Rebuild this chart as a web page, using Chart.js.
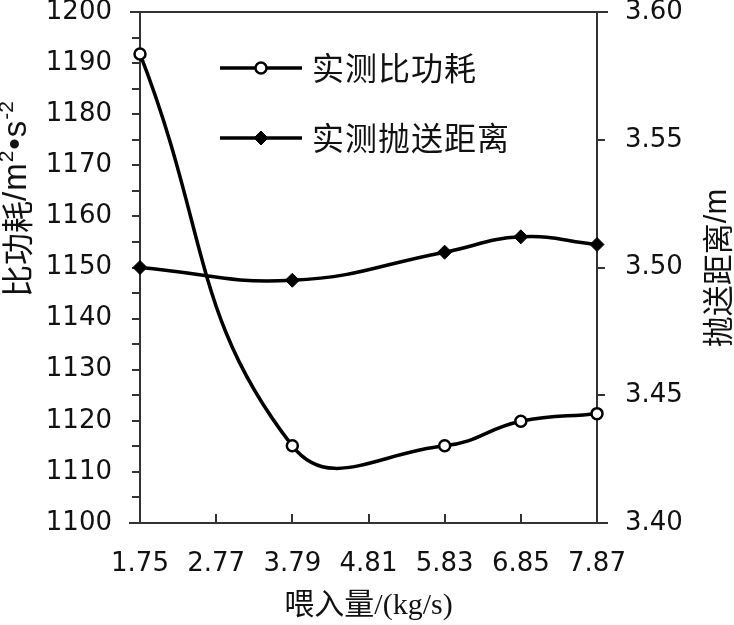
<!DOCTYPE html>
<html>
<head>
<meta charset="utf-8">
<script src="https://cdn.jsdelivr.net/npm/chart.js@4.4.1/dist/chart.umd.min.js"></script>
<style>
  html, body { margin: 0; padding: 0; background: #fff; }
  canvas { display: block; }
</style>
</head>
<body>
<canvas id="chart" width="734" height="625"></canvas>
<script>
// values
const feedRate = [1.75, 3.79, 5.83, 6.85, 7.87];
const powerUse = [1191.8, 1115.1, 1115.1, 1119.9, 1121.4];
const throwDist = [3.500, 3.495, 3.506, 3.512, 3.509];
const xTicks = [1.75, 2.77, 3.79, 4.81, 5.83, 6.85, 7.87];
const seriesNames = ['实测比功耗', '实测抛送距离'];

const AXIS = '#333';
const TICK_FONT = { family: "'DejaVu Sans', Verdana, sans-serif", size: 26 };
const CJK = "'Noto Sans CJK SC', sans-serif";

const toPoints = (ys) => feedRate.map((x, i) => ({ x: x, y: ys[i] }));

// rotated text made of normal + superscript pieces
function rotatedText(ctx, parts, cx, cy) {
  ctx.save();
  ctx.translate(cx, cy);
  ctx.rotate(-Math.PI / 2);
  ctx.textBaseline = 'middle';
  ctx.textAlign = 'left';
  let w = 0;
  parts.forEach(p => { ctx.font = p.font; w += ctx.measureText(p.t).width + (p.gap || 0); });
  let x = -w / 2;
  parts.forEach(p => {
    ctx.font = p.font;
    ctx.fillText(p.t, x, p.dy || 0);
    x += ctx.measureText(p.t).width + (p.gap || 0);
  });
  ctx.restore();
}

const extras = {
  id: 'extras',
  afterDraw(chart) {
    const ctx = chart.ctx;
    const a = chart.chartArea;
    const xs = chart.scales.x;
    ctx.save();
    ctx.strokeStyle = AXIS;
    ctx.lineWidth = 2;
    // top frame line and axis overhang
    ctx.beginPath();
    ctx.moveTo(a.left - 10, a.top);
    ctx.lineTo(a.right + 11, a.top);
    ctx.moveTo(a.left - 11, a.bottom);
    ctx.lineTo(a.right + 11, a.bottom);
    // x ticks point inward
    xTicks.forEach(v => {
      const px = Math.round(xs.getPixelForValue(v));
      ctx.moveTo(px, a.bottom);
      ctx.lineTo(px, a.bottom - 9);
    });
    ctx.stroke();

    ctx.fillStyle = '#111';
    const big = "32px " + CJK;
    const lat = "33px 'Liberation Sans', " + CJK;
    const sup = "21px 'Liberation Sans', sans-serif";
    rotatedText(ctx, [
      { t: '比功耗', font: big },
      { t: '/', font: lat, gap: 1 },
      { t: 'm', font: lat, gap: 1 },
      { t: '2', font: sup, dy: -10, gap: 1 },
      { t: '•', font: lat, gap: 1 },
      { t: 's', font: lat, gap: 1 },
      { t: '-2', font: sup, dy: -10 }
    ], 17, 199);
    rotatedText(ctx, [
      { t: '抛送距离', font: "31px " + CJK },
      { t: '/m', font: "31px 'Liberation Sans', " + CJK }
    ], 717, 268);

    // legend inside the plot
    chart.data.datasets.forEach((ds, i) => {
      const y = 68 + i * 70;
      ctx.strokeStyle = ds.borderColor;
      ctx.lineWidth = ds.borderWidth;
      ctx.beginPath();
      ctx.moveTo(220, y);
      ctx.lineTo(302, y);
      ctx.stroke();
      ctx.fillStyle = ds.pointBackgroundColor;
      ctx.strokeStyle = ds.pointBorderColor;
      ctx.lineWidth = ds.pointBorderWidth;
      Chart.helpers.drawPoint(ctx, {
        pointStyle: ds.pointStyle, radius: ds.pointRadius,
        rotation: 0, borderWidth: ds.pointBorderWidth
      }, 261, y);
      ctx.fillStyle = '#111';
      ctx.font = "32px " + CJK;
      ctx.letterSpacing = '1px';
      ctx.textBaseline = 'middle';
      ctx.textAlign = 'left';
      ctx.fillText(ds.label, 312, y);
      ctx.letterSpacing = '0px';
    });
    ctx.restore();
  }
};

new Chart(document.getElementById('chart').getContext('2d'), {
  type: 'line',
  data: {
    datasets: [
      {
        label: seriesNames[0],
        data: toPoints(powerUse),
        yAxisID: 'y',
        borderColor: '#000',
        borderWidth: 3.5,
        tension: 0.45,
        pointStyle: 'circle',
        pointRadius: 5.5,
        pointBorderWidth: 2.5,
        pointBorderColor: '#000',
        pointBackgroundColor: '#fff',
        clip: false
      },
      {
        label: seriesNames[1],
        data: toPoints(throwDist),
        yAxisID: 'y2',
        borderColor: '#000',
        borderWidth: 3.5,
        tension: 0.45,
        pointStyle: 'rectRot',
        pointRadius: 7,
        pointBorderWidth: 1,
        pointBorderColor: '#000',
        pointBackgroundColor: '#000',
        clip: false
      }
    ]
  },
  options: {
    responsive: false,
    animation: false,
    devicePixelRatio: 1,
    layout: { padding: { top: 12, left: 0, right: 0, bottom: 0 } },
    plugins: {
      legend: { display: false },
      tooltip: { enabled: false }
    },
    scales: {
      x: {
        type: 'linear',
        min: 1.75,
        max: 7.87,
        afterBuildTicks: (s) => { s.ticks = xTicks.map(v => ({ value: v })); },
        afterFit: (s) => { s.height = 102; s.paddingLeft = 0; s.paddingRight = 0; },
        grid: { display: false, drawTicks: false },
        border: { display: true, color: AXIS, width: 2 },
        ticks: {
          font: TICK_FONT, color: '#111', padding: 26, maxRotation: 0, autoSkip: false,
          callback: (v) => Number(v).toFixed(2)
        },
        title: {
          display: true,
          text: '喂入量/(kg/s)',
          color: '#111',
          font: { family: "'Liberation Serif', " + CJK, size: 30 },
          padding: { top: 0, bottom: 1 }
        }
      },
      y: {
        position: 'left',
        min: 1100,
        max: 1200,
        afterFit: (s) => { s.width = 140; s.paddingTop = 0; s.paddingBottom = 0; },
        grid: { drawOnChartArea: false, drawTicks: true, tickLength: 8, color: AXIS, lineWidth: 2 },
        border: { display: true, color: AXIS, width: 2 },
        ticks: {
          stepSize: 5, autoSkip: false, font: TICK_FONT, color: '#111', padding: 20,
          callback: (v) => (Math.round(v) % 10 === 0 ? String(Math.round(v)) : '')
        }
      },
      y2: {
        position: 'right',
        min: 3.4,
        max: 3.6,
        afterFit: (s) => { s.width = 137; s.paddingTop = 0; s.paddingBottom = 0; },
        grid: { drawOnChartArea: false, drawTicks: true, tickLength: 8, color: AXIS, lineWidth: 2 },
        border: { display: true, color: AXIS, width: 2 },
        ticks: {
          stepSize: 0.05, autoSkip: false, font: TICK_FONT, color: '#111', padding: 20,
          callback: (v) => Number(v).toFixed(2)
        }
      }
    }
  },
  plugins: [extras]
});
</script>
</body>
</html>
